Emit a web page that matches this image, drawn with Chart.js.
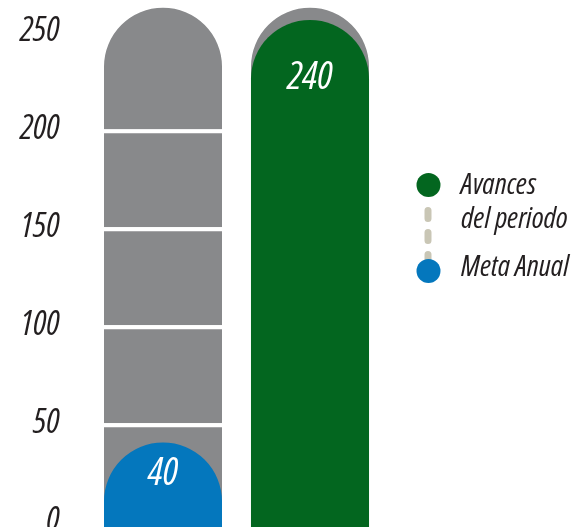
<!DOCTYPE html>
<html>
<head>
<meta charset="utf-8">
<script src="https://cdn.jsdelivr.net/npm/chart.js@4.4.1/dist/chart.umd.min.js"></script>
<style>
  html, body { margin: 0; padding: 0; background: #fff; }
  #wrap { position: relative; width: 572px; height: 527px; overflow: hidden; }
  #chart { position: absolute; left: 0; top: 0; }
  .lg-text {
    position: absolute; left: 461px;
    font-family: 'Open Sans', sans-serif; font-stretch: condensed;
    font-style: italic; font-size: 29.5px; line-height: 34px; color: #231f20;
    white-space: nowrap;
  }
  #legendMarks { position: absolute; left: 413px; top: 170px; }
</style>
</head>
<body>
<div id="wrap">
  <canvas id="chart" width="572" height="527"></canvas>
  <svg id="legendMarks" width="32" height="120"></svg>
  <div class="lg-text" id="lgTop" style="top:166px"></div>
  <div class="lg-text" id="lgBottom" style="top:248px"></div>
</div>
<script>
const categories = ['Meta Anual', 'Avances del periodo'];
const values = [40, 240];
// gray "tube" behind the bars, split in blocks of 50
const gaugeBlocks = [50, 50, 50, 50, 62];
const yTicks = [0, 50, 100, 150, 200, 250];
const legendLines = { 'Avances del periodo': ['Avances', 'del periodo'], 'Meta Anual': ['Meta Anual'] };

const barColors = ['#0477bd', '#03661f'];
const gaugeColor = '#88898b';
const textColor = '#231f20';
const fontFamily = "'Open Sans', sans-serif";

// legend, right side
const svgNS = 'http://www.w3.org/2000/svg';
const marks = document.getElementById('legendMarks');
const dash = document.createElementNS(svgNS, 'line');
dash.setAttribute('x1', 15); dash.setAttribute('x2', 15);
dash.setAttribute('y1', 40.5); dash.setAttribute('y2', 92);
dash.setAttribute('stroke', '#c9c6b5');
dash.setAttribute('stroke-width', 7);
dash.setAttribute('stroke-linecap', 'round');
dash.setAttribute('stroke-dasharray', '8 14');
marks.appendChild(dash);
[[categories[1], 15], [categories[0], 101]].forEach(([cat, cy]) => {
  const c = document.createElementNS(svgNS, 'circle');
  c.setAttribute('cx', 15.5); c.setAttribute('cy', cy); c.setAttribute('r', 12);
  c.setAttribute('fill', barColors[categories.indexOf(cat)]);
  marks.appendChild(c);
});
document.getElementById('lgTop').innerHTML = legendLines[categories[1]].join('<br>');
document.getElementById('lgBottom').textContent = legendLines[categories[0]].join(' ');

const valueLabels = {
  id: 'valueLabels',
  afterDatasetsDraw(chart, args, opts) {
    const { ctx } = chart;
    const meta = chart.getDatasetMeta(0);
    ctx.save();
    ctx.fillStyle = '#fff';
    ctx.font = `italic condensed 39px ${fontFamily}`;
    ctx.textAlign = 'center';
    ctx.textBaseline = 'middle';
    meta.data.forEach((bar, i) => {
      ctx.fillText(String(values[i]), bar.x, bar.y + opts.offsets[i]);
    });
    ctx.restore();
  },
};

const gaugeDatasets = gaugeBlocks.map((block, i) => ({
  data: categories.map(() => block),
  yAxisID: 'y',
  stack: 'gauge',
  grouped: false,
  backgroundColor: gaugeColor,
  borderColor: '#fff',
  borderWidth: i < gaugeBlocks.length - 1 ? { top: 4, left: 0, right: 0, bottom: 0 } : 0,
  borderRadius: i === gaugeBlocks.length - 1 ? 59 : 0,
  borderSkipped: 'start',
}));

new Chart(document.getElementById('chart'), {
  type: 'bar',
  data: {
    labels: categories,
    datasets: [
      {
        data: values,
        yAxisID: 'yValue',
        stack: 'value',
        grouped: false,
        base: -30,
        backgroundColor: barColors,
        borderWidth: 0,
        borderRadius: 59,
        borderSkipped: 'start',
      },
      ...gaugeDatasets,
    ],
  },
  options: {
    responsive: false,
    animation: false,
    devicePixelRatio: 1,
    layout: { padding: { left: 0, right: 188.5, top: 0, bottom: 0 }, autoPadding: false },
    datasets: { bar: { barPercentage: 0.803, categoryPercentage: 1 } },
    plugins: {
      legend: { display: false },
      tooltip: { enabled: false },
      valueLabels: { offsets: [31, 58] },
    },
    scales: {
      x: { display: false },
      y: {
        position: 'left',
        stacked: true,
        min: -3,
        max: 266,
        grid: { display: false, drawTicks: false },
        border: { display: false },
        ticks: {
          padding: 30,
          color: textColor,
          // weight slot carries the "condensed" stretch keyword into the canvas font string
          font: { family: fontFamily, style: 'italic', weight: 'condensed', size: 34 },
        },
        afterBuildTicks: (scale) => { scale.ticks = yTicks.map((v) => ({ value: v })); },
        afterFit: (scale) => { scale.width = 89.5; scale.paddingTop = 0; scale.paddingBottom = 0; },
      },
      yValue: {
        display: false,
        position: 'right',
        min: 0,
        max: 249.5,
      },
    },
  },
  plugins: [valueLabels],
});
</script>
</body>
</html>
